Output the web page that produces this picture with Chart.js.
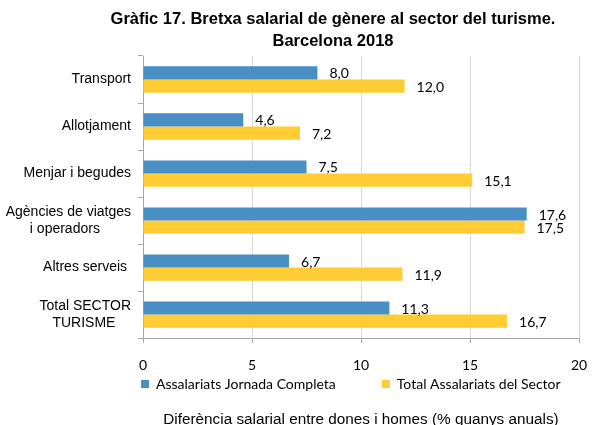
<!DOCTYPE html>
<html>
<head>
<meta charset="utf-8">
<script src="https://cdn.jsdelivr.net/npm/chart.js@4.4.0/dist/chart.umd.min.js"></script>
<style>
html,body{margin:0;padding:0;background:#ffffff;}
#wrap{width:596px;height:425px;position:relative;}
</style>
</head>
<body>
<div id="wrap"><canvas id="c" width="596" height="425"></canvas></div>
<script>
// ---- data ----
const titleLines = ['Gràfic 17. Bretxa salarial de gènere al sector del turisme.', 'Barcelona 2018'];
const categories = [
  'Transport',
  'Allotjament',
  'Menjar i begudes',
  ['Agències de viatges', 'i operadors        '],
  'Altres serveis ',
  ['Total SECTOR', 'TURISME    ']
];
const seriesNames = ['Assalariats Jornada Completa', 'Total Assalariats del Sector'];
const fullTimeValues = [8.0, 4.6, 7.5, 17.6, 6.7, 11.3];
const totalSectorValues = [12.0, 7.2, 15.1, 17.5, 11.9, 16.7];
const xAxisTitle = 'Diferència salarial entre dones i homes (% guanys anuals)';
const xMin = 0, xMax = 20, xStep = 5;

// ---- styles ----
const BLUE = '#4A8FC4';
const YELLOW = '#FFCC33';
const CAL = 'Lato, "Liberation Sans", sans-serif';
const ARIAL = '"Liberation Sans", Arial, sans-serif';

const dataLabels = {
  id: 'dataLabels',
  afterDatasetsDraw(chart) {
    const ctx = chart.ctx;
    ctx.save();
    ctx.font = '14px ' + CAL;
    ctx.fillStyle = '#000000';
    ctx.textAlign = 'left';
    ctx.textBaseline = 'middle';
    chart.data.datasets.forEach((ds, di) => {
      const meta = chart.getDatasetMeta(di);
      meta.data.forEach((el, i) => {
        const v = ds.data[i];
        ctx.fillText(v.toFixed(1).replace('.', ','), el.x + 12, el.y + 1);
      });
    });
    ctx.restore();
  }
};

const boxPlacer = {
  id: 'boxPlacer',
  afterLayout(chart) {
    const lg = chart.legend;
    if (lg) {
      lg.left = 95;
      lg.right = 95 + 700;
      lg.top = 331;
      lg.bottom = lg.top + 70;
    }
    const tb = chart.titleBlock;
    if (tb) {
      tb.left = tb.left + 87;
    }
  }
};

new Chart(document.getElementById('c'), {
  type: 'bar',
  data: {
    labels: categories,
    datasets: [
      { label: seriesNames[0], data: fullTimeValues, backgroundColor: BLUE, borderWidth: 0,
        categoryPercentage: 0.56, barPercentage: 1.0 },
      { label: seriesNames[1], data: totalSectorValues, backgroundColor: YELLOW, borderWidth: 0,
        categoryPercentage: 0.56, barPercentage: 1.0 }
    ]
  },
  options: {
    indexAxis: 'y',
    responsive: false,
    devicePixelRatio: 1,
    animation: false,
    layout: { padding: { left: 0, right: 17, top: 0, bottom: 0 } },
    plugins: {
      title: {
        display: true,
        text: titleLines,
        color: '#000000',
        font: { family: ARIAL, size: 16.5, weight: 'bold', lineHeight: 1.3 },
        padding: { top: 8.8, bottom: 4.3 }
      },
      legend: {
        display: true,
        position: 'bottom',
        align: 'start',
        maxHeight: 1,
        labels: {
          boxWidth: 8,
          boxHeight: 8,
          padding: 46,
          color: '#000000',
          font: { family: CAL, size: 14 }
        }
      },
      tooltip: { enabled: false }
    },
    scales: {
      x: {
        type: 'linear',
        min: xMin,
        max: xMax,
        position: 'bottom',
        ticks: { stepSize: xStep, color: '#000000', padding: 8,
                 font: { family: CAL, size: 14, lineHeight: 2.0 } },
        grid: { color: '#D9D9D9', tickColor: '#A6A6A6', tickLength: 5, drawTicks: true },
        border: { color: '#A6A6A6' },
        title: {
          display: true,
          text: xAxisTitle,
          color: '#000000',
          font: { family: ARIAL, size: 15.3, lineHeight: 0.6 },
          padding: { top: 27.7, bottom: 0 }
        }
      },
      y: {
        type: 'category',
        position: 'left',
        afterFit(scale) { scale.width = 143; },
        ticks: { color: '#000000', padding: 7, font: { family: ARIAL, size: 14 } },
        grid: { drawOnChartArea: false, drawTicks: true, tickLength: 5, color: '#A6A6A6', offset: true },
        border: { color: '#A6A6A6' }
      }
    }
  },
  plugins: [dataLabels, boxPlacer]
});
</script>
</body>
</html>
